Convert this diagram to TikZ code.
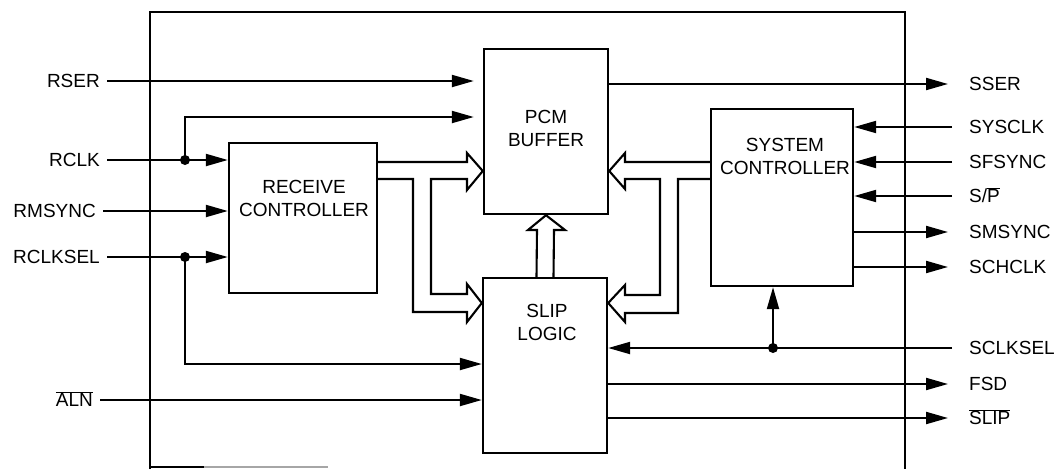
\documentclass[tikz,border=0pt]{standalone}
\usepackage{fontspec}
\setmainfont{Liberation Sans}
\usetikzlibrary{arrows.meta,calc}
\begin{document}
\begin{tikzpicture}[x=1pt,y=-1pt,
  box/.style={draw,line width=2.4pt,inner sep=0pt},
  txt/.style={font=\fontsize{19}{23}\selectfont,align=center,inner sep=0pt},
  lbl/.style={font=\fontsize{19}{23}\selectfont,inner sep=0pt,text height=13.6pt,text depth=0pt},
  sig/.style={line width=2.1pt,-{Triangle[length=22pt,width=12pt]}},
  wire/.style={line width=2.1pt},
  bus/.style={line width=2.1pt,line join=miter},
  jdot/.style={circle,fill,inner sep=0pt,minimum size=10pt}]
\useasboundingbox (0,0) rectangle (1060,469);
% outer frame
\draw[line width=2.3pt] (150,469) -- (150,12) -- (905,12) -- (905,469);
\draw[line width=2.3pt] (150,467) -- (204,467);
\draw[line width=2.3pt,black!35] (204,467) -- (328,467);
% blocks
\node[box,minimum width=124pt,minimum height=165pt] (pcm) at (546,131.5) {};
\node[box,minimum width=124pt,minimum height=175pt] (slip) at (545,365.5) {};
\node[box,minimum width=148pt,minimum height=150pt] (rc) at (303,218) {};
\node[box,minimum width=142pt,minimum height=177pt] (sc) at (782,197.5) {};
\node[txt] (pcmtxt) at (546,128.5) {PCM\\BUFFER};
\node[txt] (sliptxt) at (547,322.5) {SLIP\\LOGIC};
\node[txt] (rctxt) at (304,198) {RECEIVE\\CONTROLLER};
\node[txt] (sctxt) at (785,156.5) {SYSTEM\\CONTROLLER};
% left labels
\node[lbl,anchor=east] (rser) at (100,81) {RSER};
\node[lbl,anchor=east] (rclk) at (100,160) {RCLK};
\node[lbl,anchor=east] (rmsync) at (96,211) {RMSYNC};
\node[lbl,anchor=east] (rclksel) at (100,257) {RCLKSEL};
\node[lbl,anchor=east] (aln) at (93,400) {\(\overline{\hbox{ALN}}\)};
% right labels
\node[lbl,anchor=west] (sser) at (969,84) {SSER};
\node[lbl,anchor=west] (sysclk) at (969,127) {SYSCLK};
\node[lbl,anchor=west] (sfsync) at (969,162) {SFSYNC};
\node[lbl,anchor=west] (sp) at (969,196) {S/\(\overline{\hbox{P}}\)};
\node[lbl,anchor=west] (smsync) at (969,232) {SMSYNC};
\node[lbl,anchor=west] (schclk) at (969,267) {SCHCLK};
\node[lbl,anchor=west] (sclksel) at (969,348) {SCLKSEL};
\node[lbl,anchor=west] (fsd) at (969,384) {FSD};
\node[lbl,anchor=west] (slipo) at (969,418) {\(\overline{\hbox{SLIP}}\)};
% junction dots
\node[jdot] (d1) at (185,160) {};
\node[jdot] (d2) at (185,257) {};
\node[jdot] (d3) at (773,348) {};
% left inputs
\draw[sig,shorten >=9pt] ([xshift=7pt]rser.east) -- (pcm.west |- rser.east);
\draw[sig] ([xshift=7pt]rclk.east) -- (rc.west |- rclk.east);
\draw[sig,shorten >=9pt] (d1.center) |- (pcm.west |- 0,117);
\draw[sig] ([xshift=7pt]rmsync.east) -- (rc.west |- rmsync.east);
\draw[sig] ([xshift=7pt]rclksel.east) -- (rc.west |- rclksel.east);
\draw[sig] (d2.center) |- (slip.west |- 0,364);
\draw[sig] ([xshift=7pt]aln.east) -- (slip.west |- aln.east);
% right side
\draw[sig] (pcm.east |- sser.west) -- ([xshift=-21pt]sser.west);
\draw[sig] ([xshift=-17pt]sysclk.west) -- (sc.east |- sysclk.west);
\draw[sig] ([xshift=-17pt]sfsync.west) -- (sc.east |- sfsync.west);
\draw[sig] ([xshift=-17pt]sp.west) -- (sc.east |- sp.west);
\draw[sig] (sc.east |- smsync.west) -- ([xshift=-21pt]smsync.west);
\draw[sig] (sc.east |- schclk.west) -- ([xshift=-21pt]schclk.west);
\draw[sig] ([xshift=-17pt]sclksel.west) -- (slip.east |- sclksel.west);
\draw[sig] (d3.center) -- (d3 |- sc.south);
\draw[sig] (slip.east |- fsd.west) -- ([xshift=-21pt]fsd.west);
\draw[sig] (slip.east |- slipo.west) -- ([xshift=-21pt]slipo.west);
% hollow buses
\draw[bus] (rc.east |- 0,162) -- (467,162) -- (467,153) -- (pcm.west |- 0,171) -- (467,190) -- (467,179)
  -- (431,179) -- (431,294) -- (467,294) -- (467,284) -- (slip.west |- 0,303) -- (467,322) -- (467,312)
  -- (413,312) -- (413,179) -- (rc.east |- 0,179);
\draw[bus] (sc.west |- 0,162) -- (625,162) -- (625,153) -- (pcm.east |- 0,171) -- (625,189) -- (625,179)
  -- (660,179) -- (660,295) -- (625,295) -- (625,285) -- (slip.east |- 0,303) -- (625,322) -- (625,313)
  -- (678,313) -- (678,179) -- (sc.west |- 0,179);
\draw[bus] ($(slip.north)+(-8.5,0)$) -- (537,230) -- (528,230) -- (pcm.south) -- (565,230) -- (554,230)
  -- ($(slip.north)+(8.5,0)$);
\end{tikzpicture}
\end{document}
